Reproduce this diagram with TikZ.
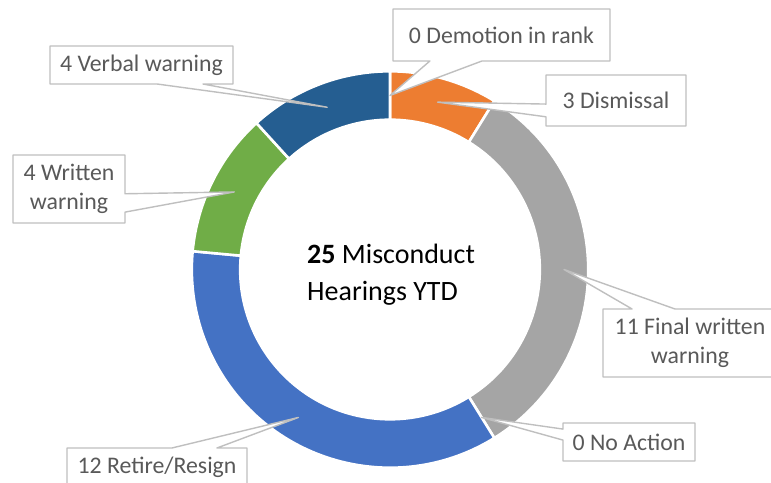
\documentclass[tikz,border=0pt]{standalone}
\usepackage{fontspec}
\setmainfont{Carlito}
\usetikzlibrary{calc}
\pgfdeclarelayer{ring}
\pgfdeclarelayer{call}
\pgfsetlayers{ring,call,main}
\definecolor{cOrange}{HTML}{ED7D31}
\definecolor{cGray}{HTML}{A5A5A5}
\definecolor{cBlue}{HTML}{4472C4}
\definecolor{cGreen}{HTML}{70AD47}
\definecolor{cDark}{HTML}{255E91}
\definecolor{labtext}{HTML}{595959}
\definecolor{lineg}{HTML}{BFBFBF}
\def\ringR{198.2}
\def\ringr{149.8}
\newcommand{\ringseg}[3]{%
  \path[seg,fill=#3] ($(C)+(#1:\ringR)$) arc[start angle=#1,end angle=#2,radius=\ringR]
    -- ($(C)+(#2:\ringr)$) arc[start angle=#2,end angle=#1,radius=\ringr] -- cycle;}
\begin{document}
\begin{tikzpicture}[x=1pt,y=1pt,
  seg/.style={draw=white,line width=2.6pt,line join=miter},
  box/.style={rectangle,inner sep=0pt,outer sep=0pt,align=center,text=labtext,
    font=\fontsize{23.8}{29.5}\selectfont},
  callout/.style={draw=lineg,line width=1.4pt,fill=white,line join=round},
  ctext/.style={anchor=base west,inner sep=0pt,font=\fontsize{28}{34}\selectfont,text=black}]
\useasboundingbox (0,0) rectangle (771,482);
\clip (0,0) rectangle (771,482);
\coordinate (C) at (390,212.5);

\begin{pgfonlayer}{ring}
\ringseg{90}{58.235}{cOrange}
\ringseg{58.235}{-58.235}{cGray}
\ringseg{-58.235}{-185.294}{cBlue}
\ringseg{-185.294}{-227.647}{cGreen}
\ringseg{-227.647}{-270}{cDark}
\end{pgfonlayer}

% anchor points of the callouts
\coordinate (pDem) at ($(C)+(90:174)$);
\coordinate (pDis) at ($(C)+(74.118:174)$);
\coordinate (pFin) at ($(C)+(0:174)$);
\coordinate (pNo)  at ($(C)+(-58.235:174)$);
\coordinate (pRet) at ($(C)+(-121.76:174)$);
\coordinate (pWri) at ($(C)+(-206.47:174)$);
\coordinate (pVer) at ($(C)+(-248.82:174)$);

% label boxes
\node[box,minimum width=217pt,minimum height=52pt] (dem) at (501.5,447) {0 Demotion in rank};
\node[box,minimum width=140pt,minimum height=51pt] (dis) at (616,381.5) {3 Dismissal};
\node[box,minimum width=183pt,minimum height=38pt] (ver) at (141.5,417) {4 Verbal warning};
\node[box,minimum width=112pt,minimum height=68pt] (wri) at (69,293) {4 Written\\warning};
\node[box,minimum width=174pt,minimum height=68pt] (fin) at (690,139) {11 Final written\\warning};
\node[box,minimum width=132pt,minimum height=38pt] (noa) at (629,40) {0 No Action};
\node[box,minimum width=180pt,minimum height=38pt] (ret) at (157,15) {12 Retire/Resign};

\begin{pgfonlayer}{call}
\path[callout] ($(dem.south west)!0.17!(dem.south east)$) -- (pDem)
  -- ($(dem.south west)!0.41!(dem.south east)$) -- (dem.south east) -- (dem.north east)
  -- (dem.north west) -- (dem.south west) -- cycle;
\path[callout] ($(dis.north west)!0.57!(dis.south west)$) -- (pDis)
  -- ($(dis.north west)!0.82!(dis.south west)$) -- (dis.south west) -- (dis.south east)
  -- (dis.north east) -- (dis.north west) -- cycle;
\path[callout] ($(ver.south west)!0.585!(ver.south east)$) -- (pVer)
  -- ($(ver.south west)!0.836!(ver.south east)$) -- (ver.south east) -- (ver.north east)
  -- (ver.north west) -- (ver.south west) -- cycle;
\path[callout] ($(wri.north east)!0.57!(wri.south east)$) -- (pWri)
  -- ($(wri.north east)!0.84!(wri.south east)$) -- (wri.south east) -- (wri.south west)
  -- (wri.north west) -- (wri.north east) -- cycle;
\path[callout] ($(fin.north west)!0.167!(fin.north east)$) -- (pFin)
  -- ($(fin.north west)!0.414!(fin.north east)$) -- (fin.north east) -- (fin.south east)
  -- (fin.south west) -- (fin.north west) -- cycle;
\path[callout] ($(noa.north west)!0.16!(noa.south west)$) -- (pNo)
  -- ($(noa.north west)!0.45!(noa.south west)$) -- (noa.south west) -- (noa.south east)
  -- (noa.north east) -- (noa.north west) -- cycle;
\path[callout] ($(ret.north west)!0.583!(ret.north east)$) -- (pRet)
  -- ($(ret.north west)!0.833!(ret.north east)$) -- (ret.north east) -- (ret.south east)
  -- (ret.south west) -- (ret.north west) -- cycle;
\end{pgfonlayer}

% centre text
\node[ctext] (cl1) at (307,218) {\textbf{25} Misconduct};
\node[ctext] (cl2) at (307,181.3) {Hearings YTD};
\end{tikzpicture}
\end{document}
